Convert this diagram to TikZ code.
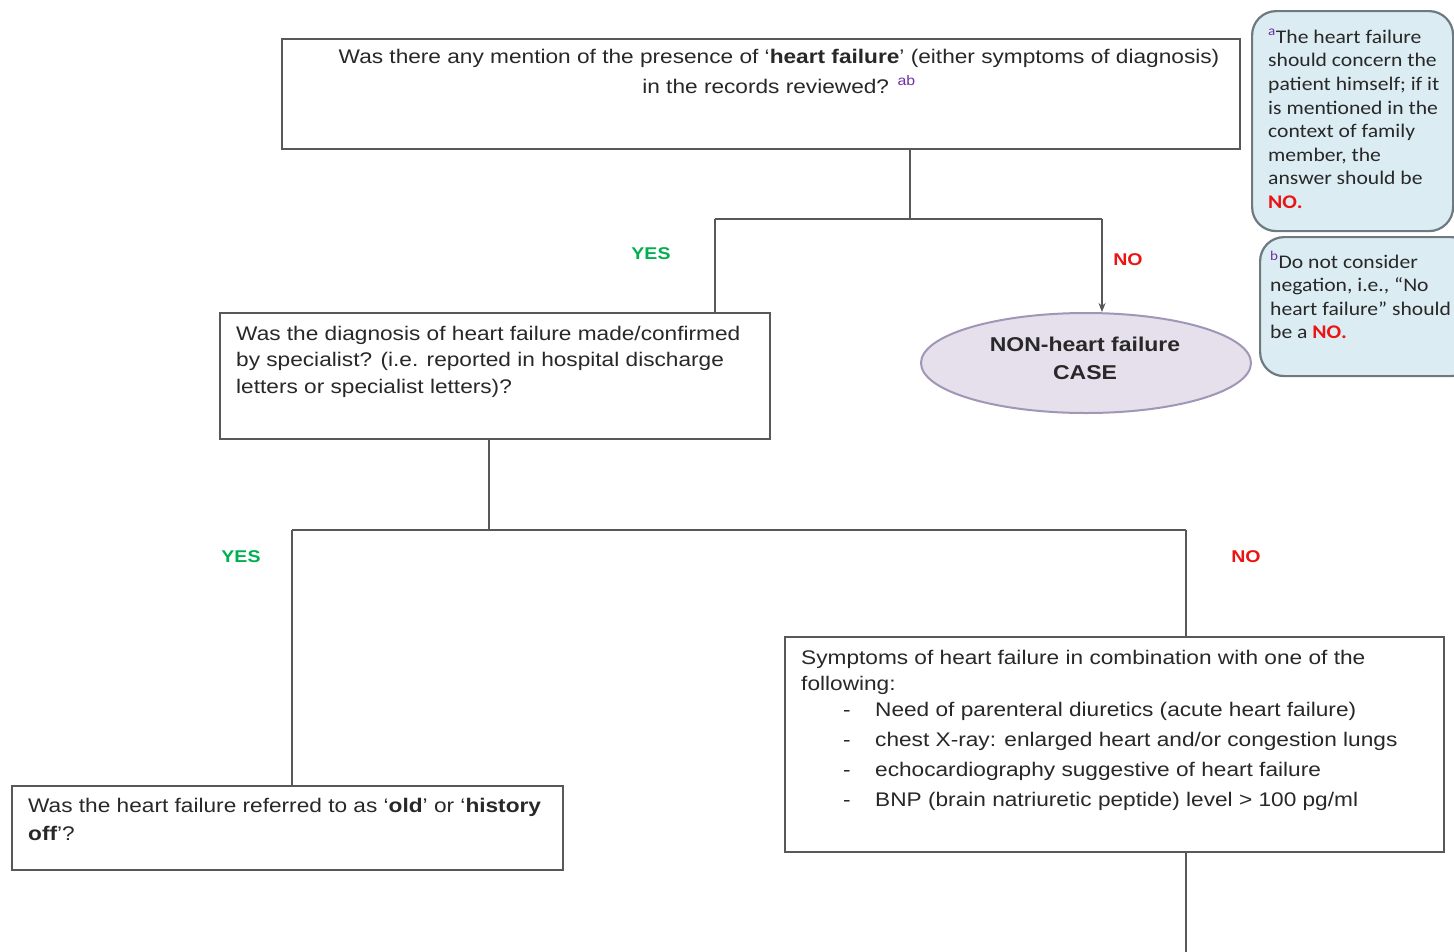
\documentclass[tikz,border=0pt]{standalone}
\usepackage{fontspec}
\setmainfont[FakeStretch=1.15]{Liberation Sans}
\newfontfamily\notefont[FakeStretch=1.12,Ligatures=TeX]{Carlito}
\usetikzlibrary{arrows.meta,shapes.geometric}

\definecolor{linegray}{RGB}{88,88,88}
\definecolor{yesgreen}{RGB}{0,176,80}
\definecolor{nored}{RGB}{235,20,20}
\definecolor{supc}{RGB}{112,48,160}
\definecolor{ellfill}{RGB}{229,224,236}
\definecolor{ellline}{RGB}{160,150,182}
\definecolor{notefill}{RGB}{219,236,243}
\definecolor{noteline}{RGB}{110,122,128}
\definecolor{txtc}{RGB}{40,40,40}

\tikzset{
  qbox/.style={draw=linegray, line width=2pt, fill=white, rectangle,
    inner sep=0pt, anchor=north west},
  qtext/.style={inner sep=0pt, text=txtc, align=left},
  notebox/.style={draw=noteline, line width=2.2pt, fill=notefill,
    rounded corners=24pt, rectangle, inner sep=0pt, anchor=north west},
  notetext/.style={inner sep=0pt, anchor=north west, align=left, text=txtc,
    font=\notefont\fontsize{19.3}{23.6}\selectfont},
  conn/.style={draw=linegray, line width=2pt},
  yeslbl/.style={text=yesgreen, font=\bfseries\fontsize{17}{20}\selectfont, inner sep=0pt},
  nolbl/.style={text=nored, font=\bfseries\fontsize{17}{20}\selectfont, inner sep=0pt},
}

\begin{document}
\begin{tikzpicture}[x=1pt,y=-1pt]
\useasboundingbox (0,0) rectangle (1454,951);
\fill[white] (0,0) rectangle (1454,951);

% question 1
\node[qbox, minimum width=958pt, minimum height=110pt] (q1) at (281,38) {};
\node[qtext, align=center, anchor=north, font=\fontsize{19.7}{30}\selectfont] (q1t) at (779,49)
  {Was there any mention of the presence of `\textbf{heart failure}' (either symptoms of diagnosis)\\
   in the records reviewed? {\color{supc}\textsuperscript{ab}}};

% question 2
\node[qbox, minimum width=550pt, minimum height=126pt] (q2) at (219,312) {};
\node[qtext, anchor=north west, font=\fontsize{19.7}{26.5}\selectfont] (q2t) at (236,326)
  {Was the diagnosis of heart failure made/confirmed\\
   by specialist? (i.e. reported in hospital discharge\\
   letters or specialist letters)?};

% outcome: not a case
\node[ellipse, draw=ellline, fill=ellfill, line width=2pt,
  minimum width=330pt, minimum height=100pt, inner sep=0pt] (nonhf) at (1086,363) {};
\node[inner sep=0pt, align=center, text=txtc,
  font=\bfseries\fontsize{20}{28}\selectfont] (nonhft) at (1085,358)
  {NON-heart failure\\CASE};

% criteria box
\node[qbox, minimum width=659pt, minimum height=215pt] (q3) at (784,636) {};
\node[qtext, anchor=north west, font=\fontsize{19.7}{26}\selectfont] (q3t) at (801,650)
  {Symptoms of heart failure in combination with one of the\\
   following:\\
   \hspace*{42pt}\makebox[32pt][l]{-}Need of parenteral diuretics (acute heart failure)\\[4pt]
   \hspace*{42pt}\makebox[32pt][l]{-}chest X-ray: enlarged heart and/or congestion lungs\\[4pt]
   \hspace*{42pt}\makebox[32pt][l]{-}echocardiography suggestive of heart failure\\[4pt]
   \hspace*{42pt}\makebox[32pt][l]{-}BNP (brain natriuretic peptide) level > 100 pg/ml};

% question 4
\node[qbox, minimum width=551pt, minimum height=84pt] (q4) at (11,785) {};
\node[qtext, anchor=north west, font=\fontsize{19.7}{28}\selectfont] (q4t) at (28,798)
  {Was the heart failure referred to as `\textbf{old}' or `\textbf{history}\\
   \textbf{off}'?};

% side notes
\node[notebox, minimum width=201pt, minimum height=220pt] (na) at (1251,10) {};
\node[notetext] (nat) at (1268,29)
  {{\color{supc}\textsuperscript{a}}The heart failure\\
   should concern the\\
   patient himself; if it\\
   is mentioned in the\\
   context of family\\
   member, the\\
   answer should be\\
   {\color{nored}\bfseries NO.}};

\node[notebox, minimum width=215pt, minimum height=139pt] (nb) at (1259,236) {};
\node[notetext] (nbt) at (1270,251)
  {{\color{supc}\textsuperscript{b}}Do not consider\\
   negation, i.e., “No\\
   heart failure” should\\
   be a {\color{nored}\bfseries NO.}};

% connectors
\coordinate (j1) at (910,219);
\coordinate (l1) at (715,219);
\coordinate (r1) at (1102,219);
\draw[conn] (q1.south -| j1) -- (j1);
\draw[conn] (l1) -- (r1);
\draw[conn] (l1) -- (l1 |- q2.north);
\draw[conn, -{Stealth[length=9pt,width=7pt]}] (r1) -- (1102,312);

\coordinate (j2) at (489,530);
\coordinate (l2) at (292,530);
\coordinate (r2) at (1186,530);
\coordinate (down) at (1186,960);
\draw[conn] (q2.south -| j2) -- (j2);
\draw[conn] (l2) -- (r2);
\draw[conn] (l2) -- (l2 |- q4.north);
\draw[conn] (r2) -- (r2 |- q3.north);
\draw[conn] (q3.south -| down) -- (down);

% branch labels
\node[yeslbl] (y1) at (651,254) {YES};
\node[nolbl] (n1) at (1128,260) {NO};
\node[yeslbl] (y2) at (241,557) {YES};
\node[nolbl] (n2) at (1246,557) {NO};
\end{tikzpicture}
\end{document}
